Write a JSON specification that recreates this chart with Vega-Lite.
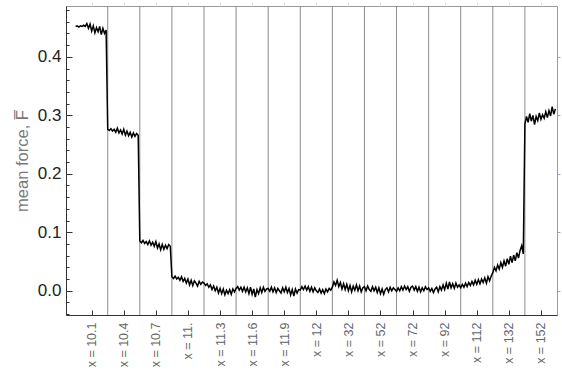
{
  "$schema": "https://vega.github.io/schema/vega-lite/v6.json",
  "width": 491,
  "height": 309,
  "autosize": {"type": "none"},
  "padding": {"left": 66, "top": 6, "right": 5, "bottom": 56},
  "background": "white",
  "config": {"view": {"stroke": "#9a9a9a", "strokeWidth": 1}, "font": "Liberation Sans"},
  "datasets": {
    "f": [
      {"p":0,"f":0.452},{"p":0.05,"f":0.453},{"p":0.1,"f":0.451},{"p":0.15,"f":0.453},{"p":0.2,"f":0.452},{"p":0.25,"f":0.454},{"p":0.3,"f":0.452},{"p":0.35,"f":0.457},{"p":0.4,"f":0.449},{"p":0.45,"f":0.456},{"p":0.5,"f":0.444},{"p":0.55,"f":0.453},{"p":0.6,"f":0.441},{"p":0.65,"f":0.450},{"p":0.7,"f":0.443},{"p":0.75,"f":0.452},{"p":0.8,"f":0.438},{"p":0.85,"f":0.449},{"p":0.9,"f":0.440},{"p":0.95,"f":0.446},
      {"p":1,"f":0.276},{"p":1.05,"f":0.274},{"p":1.1,"f":0.277},{"p":1.15,"f":0.273},{"p":1.2,"f":0.276},{"p":1.25,"f":0.271},{"p":1.3,"f":0.278},{"p":1.35,"f":0.270},{"p":1.4,"f":0.275},{"p":1.45,"f":0.268},{"p":1.5,"f":0.276},{"p":1.55,"f":0.266},{"p":1.6,"f":0.273},{"p":1.65,"f":0.265},{"p":1.7,"f":0.271},{"p":1.75,"f":0.263},{"p":1.8,"f":0.270},{"p":1.85,"f":0.264},{"p":1.9,"f":0.269},{"p":1.95,"f":0.266},
      {"p":2,"f":0.085},{"p":2.05,"f":0.082},{"p":2.1,"f":0.086},{"p":2.15,"f":0.081},{"p":2.2,"f":0.084},{"p":2.25,"f":0.079},{"p":2.3,"f":0.085},{"p":2.35,"f":0.078},{"p":2.4,"f":0.083},{"p":2.45,"f":0.076},{"p":2.5,"f":0.084},{"p":2.55,"f":0.073},{"p":2.6,"f":0.080},{"p":2.65,"f":0.070},{"p":2.7,"f":0.079},{"p":2.75,"f":0.071},{"p":2.8,"f":0.078},{"p":2.85,"f":0.072},{"p":2.9,"f":0.079},{"p":2.95,"f":0.076},
      {"p":3,"f":0.024},{"p":3.05,"f":0.021},{"p":3.1,"f":0.025},{"p":3.15,"f":0.020},{"p":3.2,"f":0.023},{"p":3.25,"f":0.018},{"p":3.3,"f":0.024},{"p":3.35,"f":0.016},{"p":3.4,"f":0.021},{"p":3.45,"f":0.013},{"p":3.5,"f":0.020},{"p":3.55,"f":0.010},{"p":3.6,"f":0.018},{"p":3.65,"f":0.009},{"p":3.7,"f":0.017},{"p":3.75,"f":0.013},{"p":3.8,"f":0.008},{"p":3.85,"f":0.016},{"p":3.9,"f":0.011},{"p":3.95,"f":0.015},
      {"p":4,"f":0.013},{"p":4.05,"f":0.009},{"p":4.1,"f":0.012},{"p":4.15,"f":0.006},{"p":4.2,"f":0.010},{"p":4.25,"f":0.002},{"p":4.3,"f":0.008},{"p":4.35,"f":0.000},{"p":4.4,"f":0.006},{"p":4.45,"f":-0.004},{"p":4.5,"f":0.004},{"p":4.55,"f":-0.005},{"p":4.6,"f":0.003},{"p":4.65,"f":-0.007},{"p":4.7,"f":0.001},{"p":4.75,"f":-0.005},{"p":4.8,"f":0.002},{"p":4.85,"f":-0.006},{"p":4.9,"f":0.003},{"p":4.95,"f":-0.002},
      {"p":5,"f":0.004},{"p":5.05,"f":0.007},{"p":5.1,"f":0.001},{"p":5.15,"f":0.006},{"p":5.2,"f":-0.001},{"p":5.25,"f":0.006},{"p":5.3,"f":-0.002},{"p":5.35,"f":0.005},{"p":5.4,"f":-0.005},{"p":5.45,"f":0.006},{"p":5.5,"f":-0.006},{"p":5.55,"f":0.003},{"p":5.6,"f":-0.011},{"p":5.65,"f":0.002},{"p":5.7,"f":-0.005},{"p":5.75,"f":0.005},{"p":5.8,"f":-0.003},{"p":5.85,"f":0.006},{"p":5.9,"f":-0.001},{"p":5.95,"f":0.003},
      {"p":6,"f":0.004},{"p":6.05,"f":-0.001},{"p":6.1,"f":0.006},{"p":6.15,"f":-0.002},{"p":6.2,"f":0.005},{"p":6.25,"f":-0.003},{"p":6.3,"f":0.004},{"p":6.35,"f":0.000},{"p":6.4,"f":-0.004},{"p":6.45,"f":0.005},{"p":6.5,"f":-0.002},{"p":6.55,"f":0.006},{"p":6.6,"f":-0.003},{"p":6.65,"f":0.004},{"p":6.7,"f":-0.007},{"p":6.75,"f":0.002},{"p":6.8,"f":-0.009},{"p":6.85,"f":0.003},{"p":6.9,"f":-0.004},{"p":6.95,"f":0.002},
      {"p":7,"f":0.001},{"p":7.05,"f":0.007},{"p":7.1,"f":0.002},{"p":7.15,"f":0.008},{"p":7.2,"f":0.001},{"p":7.25,"f":0.007},{"p":7.3,"f":-0.001},{"p":7.35,"f":0.006},{"p":7.4,"f":-0.002},{"p":7.45,"f":0.005},{"p":7.5,"f":0.000},{"p":7.55,"f":-0.003},{"p":7.6,"f":0.003},{"p":7.65,"f":-0.004},{"p":7.7,"f":0.002},{"p":7.75,"f":-0.005},{"p":7.8,"f":0.003},{"p":7.85,"f":-0.002},{"p":7.9,"f":0.004},{"p":7.95,"f":0.001},
      {"p":8,"f":0.006},{"p":8.05,"f":0.015},{"p":8.1,"f":0.009},{"p":8.15,"f":0.018},{"p":8.2,"f":0.007},{"p":8.25,"f":0.014},{"p":8.3,"f":0.003},{"p":8.35,"f":0.012},{"p":8.4,"f":0.002},{"p":8.45,"f":0.011},{"p":8.5,"f":0.000},{"p":8.55,"f":0.009},{"p":8.6,"f":-0.002},{"p":8.65,"f":0.008},{"p":8.7,"f":0.001},{"p":8.75,"f":0.010},{"p":8.8,"f":0.000},{"p":8.85,"f":0.008},{"p":8.9,"f":-0.002},{"p":8.95,"f":0.005},
      {"p":9,"f":0.007},{"p":9.05,"f":0.000},{"p":9.1,"f":0.008},{"p":9.15,"f":0.002},{"p":9.2,"f":-0.001},{"p":9.25,"f":0.007},{"p":9.3,"f":0.000},{"p":9.35,"f":0.006},{"p":9.4,"f":-0.003},{"p":9.45,"f":0.005},{"p":9.5,"f":-0.005},{"p":9.55,"f":0.003},{"p":9.6,"f":-0.006},{"p":9.65,"f":0.002},{"p":9.7,"f":0.005},{"p":9.75,"f":-0.002},{"p":9.8,"f":0.006},{"p":9.85,"f":0.000},{"p":9.9,"f":0.005},{"p":9.95,"f":0.002},
      {"p":10,"f":-0.001},{"p":10.05,"f":0.005},{"p":10.1,"f":0.000},{"p":10.15,"f":0.007},{"p":10.2,"f":0.001},{"p":10.25,"f":0.008},{"p":10.3,"f":0.002},{"p":10.35,"f":0.007},{"p":10.4,"f":-0.001},{"p":10.45,"f":0.006},{"p":10.5,"f":0.008},{"p":10.55,"f":0.001},{"p":10.6,"f":0.007},{"p":10.65,"f":-0.001},{"p":10.7,"f":0.006},{"p":10.75,"f":-0.002},{"p":10.8,"f":0.005},{"p":10.85,"f":0.000},{"p":10.9,"f":0.007},{"p":10.95,"f":0.002},
      {"p":11,"f":0.005},{"p":11.05,"f":-0.001},{"p":11.1,"f":0.004},{"p":11.15,"f":-0.003},{"p":11.2,"f":0.003},{"p":11.25,"f":0.006},{"p":11.3,"f":-0.002},{"p":11.35,"f":0.007},{"p":11.4,"f":0.001},{"p":11.45,"f":0.010},{"p":11.5,"f":0.002},{"p":11.55,"f":0.013},{"p":11.6,"f":0.003},{"p":11.65,"f":0.015},{"p":11.7,"f":0.005},{"p":11.75,"f":0.012},{"p":11.8,"f":0.004},{"p":11.85,"f":0.013},{"p":11.9,"f":0.006},{"p":11.95,"f":0.010},
      {"p":12,"f":0.005},{"p":12.05,"f":0.011},{"p":12.1,"f":0.006},{"p":12.15,"f":0.013},{"p":12.2,"f":0.007},{"p":12.25,"f":0.014},{"p":12.3,"f":0.009},{"p":12.35,"f":0.016},{"p":12.4,"f":0.010},{"p":12.45,"f":0.018},{"p":12.5,"f":0.011},{"p":12.55,"f":0.019},{"p":12.6,"f":0.012},{"p":12.65,"f":0.020},{"p":12.7,"f":0.014},{"p":12.75,"f":0.022},{"p":12.8,"f":0.013},{"p":12.85,"f":0.024},{"p":12.9,"f":0.017},{"p":12.95,"f":0.025},
      {"p":13,"f":0.031},{"p":13.05,"f":0.040},{"p":13.1,"f":0.034},{"p":13.15,"f":0.044},{"p":13.2,"f":0.037},{"p":13.25,"f":0.048},{"p":13.3,"f":0.040},{"p":13.35,"f":0.051},{"p":13.4,"f":0.042},{"p":13.45,"f":0.055},{"p":13.5,"f":0.045},{"p":13.55,"f":0.059},{"p":13.6,"f":0.048},{"p":13.65,"f":0.061},{"p":13.7,"f":0.051},{"p":13.75,"f":0.065},{"p":13.8,"f":0.056},{"p":13.85,"f":0.069},{"p":13.9,"f":0.077},{"p":13.95,"f":0.063},
      {"p":14,"f":0.285},{"p":14.05,"f":0.298},{"p":14.1,"f":0.288},{"p":14.15,"f":0.303},{"p":14.2,"f":0.290},{"p":14.25,"f":0.300},{"p":14.3,"f":0.284},{"p":14.35,"f":0.298},{"p":14.4,"f":0.291},{"p":14.45,"f":0.304},{"p":14.5,"f":0.293},{"p":14.55,"f":0.301},{"p":14.6,"f":0.295},{"p":14.65,"f":0.306},{"p":14.7,"f":0.296},{"p":14.75,"f":0.308},{"p":14.8,"f":0.299},{"p":14.85,"f":0.315},{"p":14.9,"f":0.302},{"p":14.95,"f":0.311}
    ],
    "s": [{"b":1},{"b":2},{"b":3},{"b":4},{"b":5},{"b":6},{"b":7},{"b":8},{"b":9},{"b":10},{"b":11},{"b":12},{"b":13},{"b":14}]
  },
  "layer": [
    {
      "data": {"name": "s"},
      "mark": {"type": "rule", "color": "#8c8c8c", "strokeWidth": 1},
      "encoding": {
        "x": {"field": "b", "type": "quantitative", "scale": {"domain": [-0.3, 15], "nice": false, "zero": false},
          "axis": {"orient": "top", "values": [0.5,1.5,2.5,3.5,4.5,5.5,6.5,7.5,8.5,9.5,10.5,11.5,12.5,13.5,14.5], "labels": false, "domain": false, "grid": false, "tickSize": 4, "tickColor": "#dddddd", "title": null}}
      }
    },
    {
      "data": {"name": "f"},
      "mark": {"type": "line", "color": "black", "strokeWidth": 1.5, "clip": true},
      "encoding": {
        "x": {"field": "p", "type": "quantitative", "scale": {"domain": [-0.3, 15], "nice": false, "zero": false},
          "axis": {"orient": "bottom", "values": [0.5,1.5,2.5,3.5,4.5,5.5,6.5,7.5,8.5,9.5,10.5,11.5,12.5,13.5,14.5],
            "labelExpr": "['x = 10.1','x = 10.4','x = 10.7','x = 11.','x = 11.3','x = 11.6','x = 11.9','x = 12','x = 32','x = 52','x = 72','x = 92','x = 112','x = 132','x = 152'][round(datum.value - 0.5)]",
            "labelAngle": -90, "labelAlign": "right", "labelBaseline": "middle", "labelFontSize": 12.5, "labelColor": "#666666",
            "labelOverlap": false, "labelFlush": false, "labelPadding": 12,
            "tickSize": -5, "tickColor": "#333333", "domainColor": "#333333", "grid": false, "title": null}},
        "y": {"field": "f", "type": "quantitative", "scale": {"domain": [-0.0415, 0.487], "nice": false, "zero": false},
          "axis": {"orient": "left", "values": [-0.04,-0.02,0,0.02,0.04,0.06,0.08,0.1,0.12,0.14,0.16,0.18,0.2,0.22,0.24,0.26,0.28,0.3,0.32,0.34,0.36,0.38,0.4,0.42,0.44,0.46,0.48],
            "labelExpr": "abs(datum.value*10 - round(datum.value*10)) < 0.001 ? format(datum.value, '.1f') : ''",
            "tickSize": {"condition": {"test": "abs(datum.value*10 - round(datum.value*10)) < 0.001", "value": -6}, "value": -3},
            "tickColor": "#333333", "domainColor": "#333333", "labelFontSize": 17, "labelColor": "#222222", "labelPadding": 11,
            "labelOverlap": false, "labelFlush": false, "grid": false,
            "title": "mean force, F̅", "titleColor": "#7a7a7a", "titleFontSize": 16.5, "titleFontWeight": "normal", "titlePadding": 7}}
      }
    },
    {
      "data": {"name": "f"},
      "mark": {"type": "line", "opacity": 0},
      "encoding": {
        "x": {"field": "p", "type": "quantitative", "axis": null},
        "y": {"field": "f", "type": "quantitative",
          "axis": {"orient": "right", "values": [0, 0.1, 0.2, 0.3, 0.4], "labels": false, "domain": false, "grid": false, "tickSize": 3, "tickColor": "#9aa0c8", "title": null}}
      }
    }
  ],
  "resolve": {"axis": {"x": "independent", "y": "independent"}}
}
